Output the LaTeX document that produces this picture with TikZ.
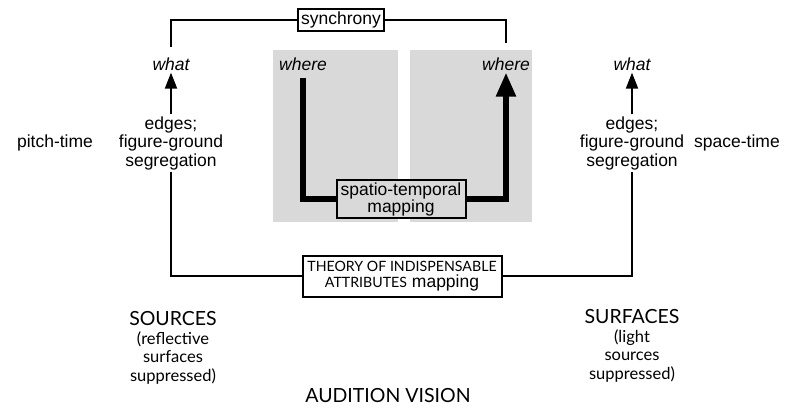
\documentclass[tikz,border=0pt]{standalone}
\usepackage{fontspec}
\setmainfont{Liberation Sans}
\newfontfamily\optfont{Lato}
\usetikzlibrary{arrows.meta, positioning}

\begin{document}
\begin{tikzpicture}[x=1pt, y=-1pt,
  txt/.style={inner sep=2pt, align=center, font=\fontsize{17.5}{18.5}\selectfont},
  whatlbl/.style={inner sep=2pt, font=\fontsize{17.5}{18.5}\selectfont\itshape},
  caplbl/.style={inner sep=2pt, align=center, font=\optfont\fontsize{16.5}{18.5}\selectfont},
  tagbox/.style={draw, line width=2pt, inner sep=0pt, align=center, font=\fontsize{17.5}{17}\selectfont},
  link/.style={line width=2pt},
  arr/.style={-{Triangle[length=16pt, width=12pt]}, line width=2pt},
  bigarr/.style={-{Triangle[length=24pt, width=19pt]}, line width=5.5pt},
]
\useasboundingbox (0,0) rectangle (796,410);

% grey panels
\fill[black!15] (273,50) rectangle (398,222);
\fill[black!15] (410,50) rectangle (532,222);

\node[tagbox, minimum width=86pt, minimum height=22pt] (synch) at (341,20) {synchrony};
\node[whatlbl] (whatL) at (171,64) {what};
\node[whatlbl] (whatR) at (632,64) {what};
\node[whatlbl] (whereL) at (303,64) {where};
\node[whatlbl] (whereR) at (506,64) {where};
\node[txt] (edgesL) at (171,143) {edges;\\figure-ground\\segregation};
\node[txt] (edgesR) at (632,143) {edges;\\figure-ground\\segregation};
\node[txt] (pitch) at (55,143) {pitch-time};
\node[txt] (space) at (737,143) {space-time};
\node[tagbox, fill=black!15, minimum width=129pt, minimum height=38pt] (spatial) at (401,199) {spatio-temporal\\mapping};
\node[tagbox, fill=white, minimum width=199pt, minimum height=41pt, font=\fontsize{17.5}{16}\selectfont] (theory) at (402,276)
  {{\optfont\fontsize{14.2}{16}\selectfont THEORY OF INDISPENSABLE}\\{\optfont\fontsize{14.2}{16}\selectfont ATTRIBUTES} mapping};
\node[caplbl] (sources) at (173,348) {{\fontsize{19.5}{18.5}\selectfont SOURCES}\\(reflective\\surfaces\\suppressed)};
\node[caplbl] (surfaces) at (632,346) {{\fontsize{19.5}{18.5}\selectfont SURFACES}\\(light\\sources\\suppressed)};
\node[caplbl, font=\optfont\fontsize{19.5}{20}\selectfont] (modes) at (388,396) {AUDITION VISION};

% connectors
\draw[link, shorten >=8pt] (synch.west) -| (whatL.north);
\draw[link, shorten >=12pt] (synch.east) -| (whereR.north);
\draw[arr] (edgesL.north) -- (whatL.south);
\draw[arr] (edgesR.north) -- (whatR.south);
\draw[link] (edgesL.south) |- (theory.west);
\draw[link] (theory.east) -| (edgesR.south);
\draw[line width=5.5pt, shorten <=5pt] (whereL.south) |- (spatial.west);
\draw[bigarr] (spatial.east) -| (whereR.south);
\end{tikzpicture}
\end{document}
